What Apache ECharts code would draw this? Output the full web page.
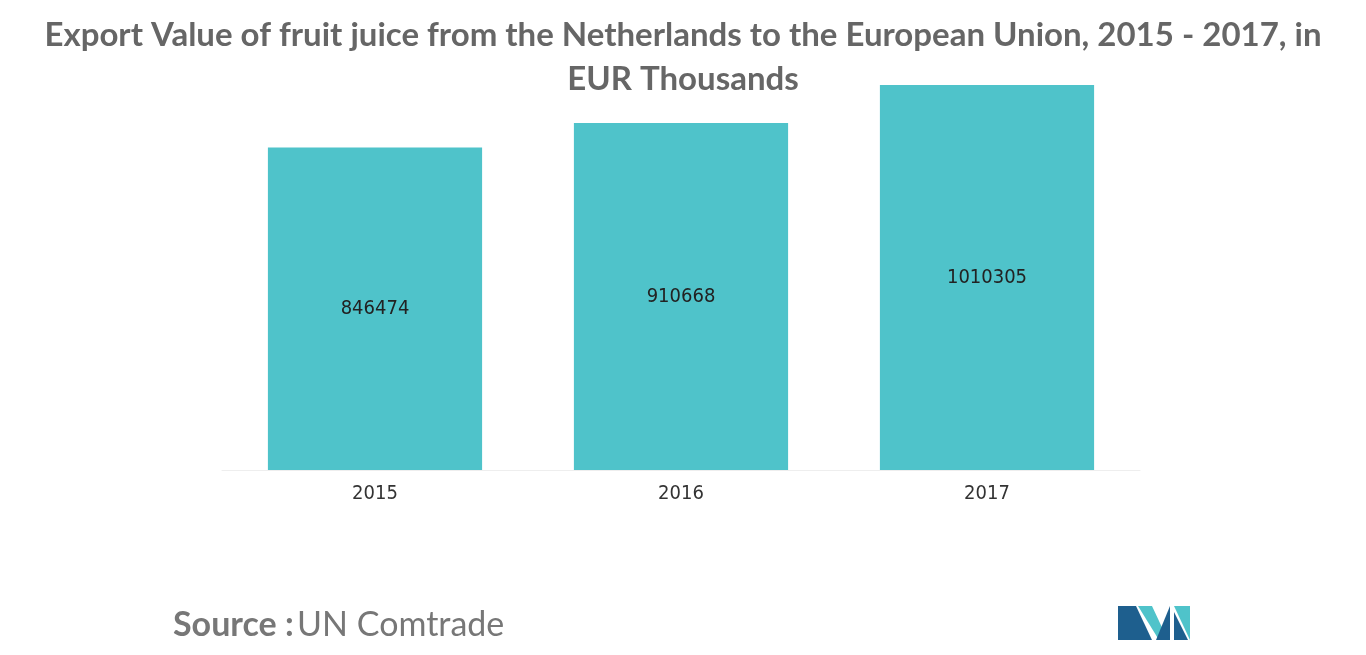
<!DOCTYPE html>
<html>
<head>
<meta charset="utf-8">
<script src="https://cdn.jsdelivr.net/npm/echarts@6/dist/echarts.min.js"></script>
<style>html,body{margin:0;padding:0;background:#fff}#main{width:1366px;height:655px}</style>
</head>
<body>
<div id="main"></div>
<script>
const years = ['2015', '2016', '2017'];
const exportValues = [846474, 910668, 1010305];

const chart = echarts.init(document.getElementById('main'));
const option = {
    backgroundColor: '#fff',
    title: {
        text: 'Export Value of fruit juice from the Netherlands to the European Union, 2015 - 2017, in\nEUR Thousands',
        left: 'center',
        top: 8,
        textStyle: {
            fontFamily: 'Lato',
            fontWeight: 'bold',
            fontSize: 33,
            color: '#666',
            lineHeight: 44
        }
    },
    grid: {left: 222, right: 226, top: 85, bottom: 185},
    xAxis: {
        type: 'category',
        data: years,
        axisTick: {show: false},
        axisLine: {lineStyle: {color: '#eee'}},
        axisLabel: {fontFamily: 'DejaVu Sans Condensed', fontSize: 20, color: '#333', margin: 14}
    },
    yAxis: {type: 'value', min: 0, max: 1010305, show: false},
    series: [{
        type: 'bar',
        data: exportValues,
        barWidth: '70%',
        itemStyle: {color: '#4fc3ca'},
        label: {
            show: true,
            position: 'inside',
            fontFamily: 'DejaVu Sans Condensed',
            fontSize: 20,
            color: '#222'
        }
    }],
    graphic: [
        {
            type: 'text', left: 173, top: 608,
            style: {
                rich: {
                    b: {fontFamily: 'Lato', fontWeight: 'bold', fontSize: 34, fill: '#777'},
                    n: {fontFamily: 'Lato', fontSize: 34, fill: '#777'}
                },
                text: '{b|Source :} {n|UN Comtrade}'
            }
        },
        {type: 'polygon', shape: {points: [[1118, 640], [1118, 606], [1136, 606], [1152, 640]]}, style: {fill: '#1e5f8e'}},
        {type: 'polygon', shape: {points: [[1138, 606], [1152, 606], [1166, 636], [1159, 640]]}, style: {fill: '#4fc3ca'}},
        {type: 'polygon', shape: {points: [[1156, 640], [1170, 606], [1170, 640]]}, style: {fill: '#1e5f8e'}},
        {type: 'polygon', shape: {points: [[1174, 606], [1190, 606], [1190, 640]]}, style: {fill: '#4fc3ca'}},
        {type: 'polygon', shape: {points: [[1174, 612], [1188, 640], [1174, 640]]}, style: {fill: '#1e5f8e'}}
    ]
};
chart.setOption(option);
</script>
</body>
</html>
